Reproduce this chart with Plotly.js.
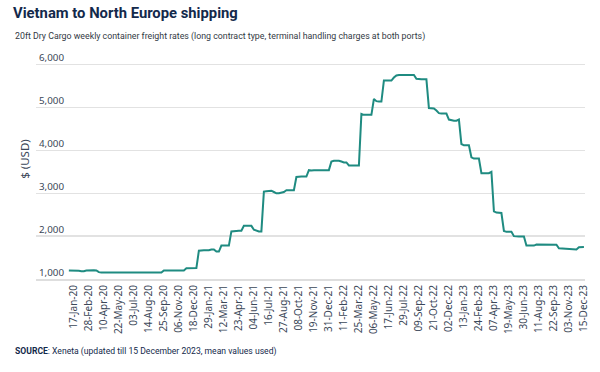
<!DOCTYPE html>
<html>
<head>
<meta charset="utf-8">
<script src="https://cdn.plot.ly/plotly-3.0.1.min.js"></script>
<style>html,body{margin:0;padding:0;background:#fff;}#chart{width:600px;height:372px;}</style>
</head>
<body>
<div id="chart"></div>
<script>
const startDate = '2020-01-03';
const rates = [
  1200,1200,1200,1195,1190, 1180,1180, 1200,1205,1205,1205,1200, 1160,
  1150,1150,1150,1150,1150,1150,1150,1150,1150,1150,1150,1150,1150,1150,1150,1150,1150,1150,1150,1150,1150,1150,1150,1150,1150,
  1200,1200,1200,1200,1200,1200,1200,1200,1200,
  1250,1255,1255,1255,1255,
  1660,1670,1670,1670,1670, 1690,1690, 1640,1640,
  1780,1780,1780,1780,
  2110,2120,2125,2125,2125,
  2240,2240,2240,2240,
  2150,2130,2110,2110,
  3040,3050,3060,3060, 3030, 3000,3000,3010, 3030,
  3070,3070,3070,3070,
  3380,3390,3390,3390,3390,
  3540,3530,3540,3540,3540,3540,3540,3540,3540,
  3740,3760,3760,3760, 3740,3720,3720,
  3650,3650,3650,3650,3650,
  4850,4830,4830,4830,4830,
  5200,5150,5140,5140,
  5630,5630,5630,5630,
  5700, 5750,5760,5760,5760,5760,5760,5760,5760,
  5670,5660,5660,5660,5660,
  4990,4980,4980,4930,
  4870,4860,4860,4860,
  4720,4700,4695,4695,4720,
  4150,4120,4120,4120,
  3840,3810,3810,3810,
  3470,3470,3470,3470,3500,
  2580,2550,2545,2540,
  2120,2100,2100,2100,
  2000,1990,1990,1990,1990,
  1780,1780,1780,1780,
  1805,1805,1805,1805,
  1790,1790,1790,1790, 1800,
  1715,1710,1710,1710,1710,
  1690,1690,1690,
  1740,1745,1745
];
const tickLabels = ['17-Jan-20','28-Feb-20','10-Apr-20','22-May-20','03-Jul-20','14-Aug-20','25-Sep-20','06-Nov-20','18-Dec-20','29-Jan-21','12-Mar-21','23-Apr-21','04-Jun-21','16-Jul-21','27-Aug-21','08-Oct-21','19-Nov-21','31-Dec-21','11-Feb-22','25-Mar-22','06-May-22','17-Jun-22','29-Jul-22','09-Sep-22','21-Oct-22','02-Dec-22','13-Jan-23','24-Feb-23','07-Apr-23','19-May-23','30-Jun-23','11-Aug-23','22-Sep-23','03-Nov-23','15-Dec-23'];
const yTicks = [1000,2000,3000,4000,5000,6000];

const months = {Jan:'01',Feb:'02',Mar:'03',Apr:'04',May:'05',Jun:'06',Jul:'07',Aug:'08',Sep:'09',Oct:'10',Nov:'11',Dec:'12'};
const tickVals = tickLabels.map(s => { const p = s.split('-'); return '20' + p[2] + '-' + months[p[1]] + '-' + p[0]; });
const d0 = new Date(startDate + 'T00:00:00Z');
const dates = rates.map((_, i) => new Date(d0.getTime() + i * 7 * 86400000).toISOString().slice(0, 10));

const font = 'Noto Sans, Open Sans, sans-serif';
const headFont = 'Roboto, Noto Sans, sans-serif';
const yMax = 6600;
const plotBottom = 278.7, pxPer1000 = 42.74;
const plotTop = plotBottom - (yMax - 1000) / 1000 * pxPer1000;
const plotLeft = 36, plotW = 549;
const py = y => (plotBottom - y) / (plotBottom - plotTop);
const px = x => (x - plotLeft) / plotW;

const trace = {
  x: dates, y: rates, type: 'scatter', mode: 'lines',
  line: {color: '#1f8b81', width: 2}, hoverinfo: 'skip'
};
const layout = {
  width: 600, height: 372,
  margin: {l: plotLeft, r: 600 - plotLeft - plotW, t: plotTop, b: 372 - plotBottom},
  paper_bgcolor: '#fff', plot_bgcolor: '#fff',
  showlegend: false,
  font: {family: font, color: '#3b4758'},
  title: {
    text: '<b>Vietnam to North Europe shipping</b>',
    font: {family: headFont, size: 14.8, color: '#13294b'},
    xref: 'container', yref: 'container', x: 13/600, xanchor: 'left', y: 1 - 13/372, yanchor: 'middle'
  },
  xaxis: {
    type: 'date', range: ['2019-10-03', '2023-12-18'],
    tickvals: tickVals, ticktext: tickLabels, tickangle: -90,
    tickfont: {size: 10, color: '#3b4758'}, ticks: '', showgrid: false, zeroline: false,
    showline: true, linecolor: '#dedede', linewidth: 2
  },
  yaxis: {
    range: [1000, yMax], tickvals: yTicks, tickformat: ',d',
    ticklabelposition: 'inside top', tickfont: {size: 9.8, color: '#3b4758'},
    showgrid: true, gridcolor: '#e2e2e2', gridwidth: 1.5, zeroline: false, ticks: '',
    title: {text: '$ (USD)', font: {size: 11.5, color: '#3b4758'}, standoff: 6}
  },
  annotations: [
    {text: '20ft Dry Cargo weekly container freight rates (long contract type, terminal handling charges at both ports)',
     xref: 'paper', yref: 'paper', x: px(13), y: py(37), xanchor: 'left', yanchor: 'middle', showarrow: false,
     font: {family: headFont, size: 8.8, color: '#333a44'}},
    {text: '<b>SOURCE</b>: Xeneta (updated till 15 December 2023, mean values used)',
     xref: 'paper', yref: 'paper', x: px(13), y: py(351), xanchor: 'left', yanchor: 'middle', showarrow: false,
     font: {family: headFont, size: 8.6, color: '#13294b'}}
  ]
};
Plotly.newPlot('chart', [trace], layout, {displayModeBar: false, staticPlot: true});
</script>
</body>
</html>
